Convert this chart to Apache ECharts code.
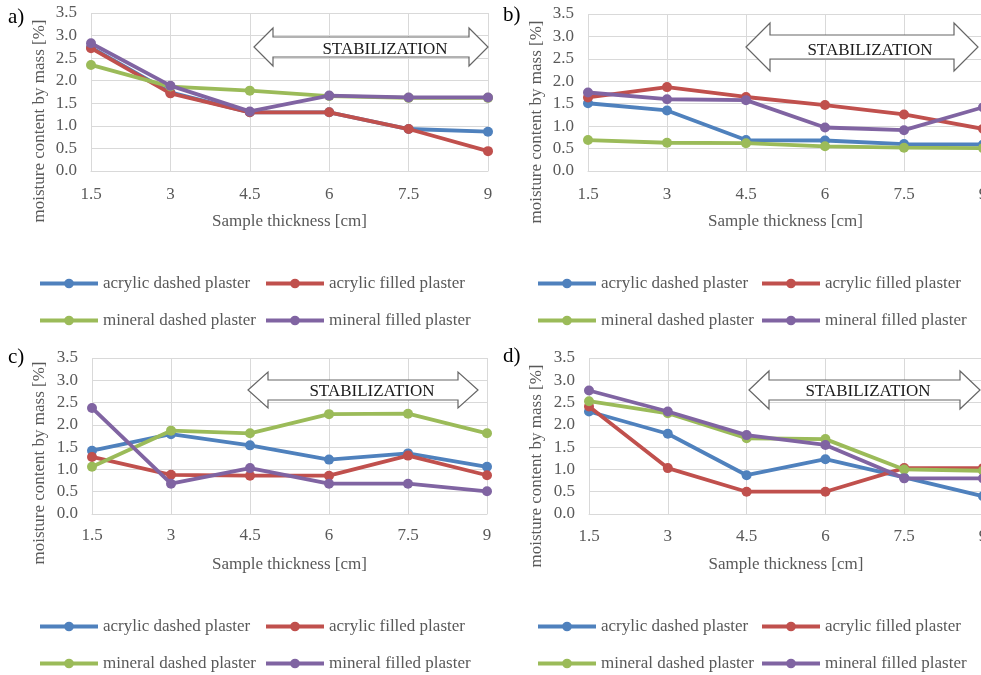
<!DOCTYPE html>
<html>
<head>
<meta charset="utf-8">
<script src="https://cdn.jsdelivr.net/npm/echarts@6/dist/echarts.min.js"></script>
<style>
html,body{margin:0;padding:0;background:#fff;}
#chart{width:981px;height:675px;}
</style>
</head>
<body>
<div id="chart"></div>
<script>
// ---- data ----
const thickness = [1.5, 3, 4.5, 6, 7.5, 9];
const seriesNames = ['acrylic dashed plaster', 'acrylic filled plaster', 'mineral dashed plaster', 'mineral filled plaster'];
const yTicks = ['0.0','0.5','1.0','1.5','2.0','2.5','3.0','3.5'];

const acrylicDashedA = [2.74, 1.74, 1.30, 1.30, 0.93, 0.87];
const acrylicFilledA = [2.72, 1.72, 1.30, 1.30, 0.93, 0.44];
const mineralDashedA = [2.35, 1.87, 1.78, 1.66, 1.62, 1.62];
const mineralFilledA = [2.83, 1.89, 1.32, 1.67, 1.63, 1.63];

const acrylicDashedB = [1.51, 1.35, 0.69, 0.68, 0.60, 0.59];
const acrylicFilledB = [1.64, 1.87, 1.65, 1.47, 1.26, 0.94];
const mineralDashedB = [0.69, 0.63, 0.62, 0.55, 0.52, 0.51];
const mineralFilledB = [1.75, 1.60, 1.58, 0.97, 0.91, 1.42];

const acrylicDashedC = [1.42, 1.79, 1.54, 1.22, 1.36, 1.06];
const acrylicFilledC = [1.28, 0.88, 0.86, 0.86, 1.31, 0.87];
const mineralDashedC = [1.06, 1.87, 1.81, 2.24, 2.25, 1.81];
const mineralFilledC = [2.38, 0.68, 1.03, 0.68, 0.68, 0.51];

const acrylicDashedD = [2.30, 1.80, 0.87, 1.23, 0.82, 0.40];
const acrylicFilledD = [2.41, 1.03, 0.50, 0.50, 1.03, 1.03];
const mineralDashedD = [2.53, 2.26, 1.70, 1.68, 1.00, 0.97];
const mineralFilledD = [2.77, 2.30, 1.77, 1.55, 0.80, 0.80];

const panelLabels = ['a)', 'b)', 'c)', 'd)'];
const yAxisTitle = 'moisture content by mass [%]';
const xAxisTitle = 'Sample thickness [cm]';
const annotationText = 'STABILIZATION';

// ---- styles / layout ----
const colors = ['#4F81BD', '#C0504D', '#9BBB59', '#8064A2'];
const FONT = '"Liberation Serif", "Times New Roman", serif';
const TXT = '#595959';
const GRIDC = '#d9d9d9';

const panels = [
  { data: [acrylicDashedA, acrylicFilledA, mineralDashedA, mineralFilledA],
    grid: {left: 91, top: 13, width: 397, height: 158},
    labelMargin: 15, nameGap: 42,
    yName: [40, 121], label: [8, 17],
    legendCols: [38, 264], legendRows: [284, 321],
    arrow: {L: 254, R: 488, cy: 47, hh: 19, bh: 10, hw: 19, tx: 385, ty: 50} },
  { data: [acrylicDashedB, acrylicFilledB, mineralDashedB, mineralFilledB],
    grid: {left: 588, top: 14, width: 395, height: 157},
    labelMargin: 15, nameGap: 42,
    yName: [537, 122], label: [503, 15],
    legendCols: [536, 760], legendRows: [284, 321],
    arrow: {L: 746, R: 978, cy: 47, hh: 24, bh: 12, hw: 24, tx: 870, ty: 51} },
  { data: [acrylicDashedC, acrylicFilledC, mineralDashedC, mineralFilledC],
    grid: {left: 92, top: 358, width: 395, height: 156},
    labelMargin: 13, nameGap: 42,
    yName: [40, 463], label: [8, 357],
    legendCols: [38, 264], legendRows: [627, 664],
    arrow: {L: 248, R: 478, cy: 390, hh: 18, bh: 10, hw: 20, tx: 372, ty: 392} },
  { data: [acrylicDashedD, acrylicFilledD, mineralDashedD, mineralFilledD],
    grid: {left: 589, top: 358, width: 394, height: 156},
    labelMargin: 14, nameGap: 42,
    yName: [537, 466], label: [503, 356],
    legendCols: [536, 760], legendRows: [627, 664],
    arrow: {L: 749, R: 980, cy: 390, hh: 19, bh: 10, hw: 20, tx: 868, ty: 392} }
];

const grids = [], xAxes = [], yAxes = [], series = [], legends = [], graphics = [];

panels.forEach((p, i) => {
  grids.push(Object.assign({containLabel: false, outerBoundsMode: 'none'}, p.grid));
  xAxes.push({
    type: 'value', gridIndex: i, min: 1.5, max: 9, interval: 1.5,
    name: xAxisTitle, nameLocation: 'middle', nameGap: p.nameGap,
    nameTextStyle: {fontFamily: FONT, fontSize: 17, color: TXT},
    axisLine: {show: true, lineStyle: {color: GRIDC, width: 1}},
    axisTick: {show: false},
    axisLabel: {fontFamily: FONT, fontSize: 17, color: TXT, margin: p.labelMargin,
      formatter: v => String(v)},
    splitLine: {show: true, lineStyle: {color: GRIDC, width: 1}}
  });
  yAxes.push({
    type: 'value', gridIndex: i, min: 0, max: 3.5, interval: 0.5,
    axisLine: {show: false}, axisTick: {show: false},
    axisLabel: {fontFamily: FONT, fontSize: 17, color: TXT, margin: 14,
      formatter: v => yTicks[Math.round(v / 0.5)]},
    splitLine: {show: true, lineStyle: {color: GRIDC, width: 1}}
  });
  p.data.forEach((vals, k) => {
    series.push({
      name: seriesNames[k], type: 'line', xAxisIndex: i, yAxisIndex: i,
      data: thickness.map((x, j) => [x, vals[j]]),
      symbol: 'circle', symbolSize: 10,
      lineStyle: {width: 3.8, color: colors[k]},
      itemStyle: {color: colors[k]},
      z: 2 + k, animation: false
    });
  });
  // legends: one per item (2 columns x 2 rows)
  seriesNames.forEach((nm, k) => {
    const col = k % 2, row = Math.floor(k / 2);
    legends.push({
      data: [nm],
      left: p.legendCols[col], top: p.legendRows[row] - 9,
      orient: 'horizontal', padding: 0,
      itemWidth: 58, itemHeight: 12,
      lineStyle: {width: 4},
      textStyle: {fontFamily: FONT, fontSize: 17, color: TXT},
      selectedMode: false
    });
  });
  // y axis title
  graphics.push({
    type: 'text', x: p.yName[0], y: p.yName[1], rotation: Math.PI / 2,
    style: {text: yAxisTitle, fontFamily: FONT, fontSize: 17, fill: TXT,
      align: 'center', verticalAlign: 'middle'}
  });
  // panel label
  graphics.push({
    type: 'text', x: p.label[0], y: p.label[1],
    style: {text: panelLabels[i], fontFamily: FONT, fontSize: 21, fill: '#000',
      align: 'left', verticalAlign: 'middle'}
  });
  // stabilization arrow
  const a = p.arrow;
  graphics.push({
    type: 'polygon', z: 50,
    shape: {points: [
      [a.L, a.cy], [a.L + a.hw, a.cy - a.hh], [a.L + a.hw, a.cy - a.bh],
      [a.R - a.hw, a.cy - a.bh], [a.R - a.hw, a.cy - a.hh], [a.R, a.cy],
      [a.R - a.hw, a.cy + a.hh], [a.R - a.hw, a.cy + a.bh], [a.L + a.hw, a.cy + a.bh],
      [a.L + a.hw, a.cy + a.hh]
    ]},
    style: {fill: '#ffffff', stroke: '#666666', lineWidth: 1.2}
  });
  graphics.push({
    type: 'text', z: 51, x: a.tx, y: a.ty,
    style: {text: annotationText, fontFamily: FONT, fontSize: 17, fill: '#1a1a1a',
      align: 'center', verticalAlign: 'middle'}
  });
});

const chart = echarts.init(document.getElementById('chart'), null, {renderer: 'canvas'});
chart.setOption({
  backgroundColor: '#ffffff',
  animation: false,
  grid: grids, xAxis: xAxes, yAxis: yAxes,
  series: series, legend: legends, graphic: graphics
});
</script>
</body>
</html>
